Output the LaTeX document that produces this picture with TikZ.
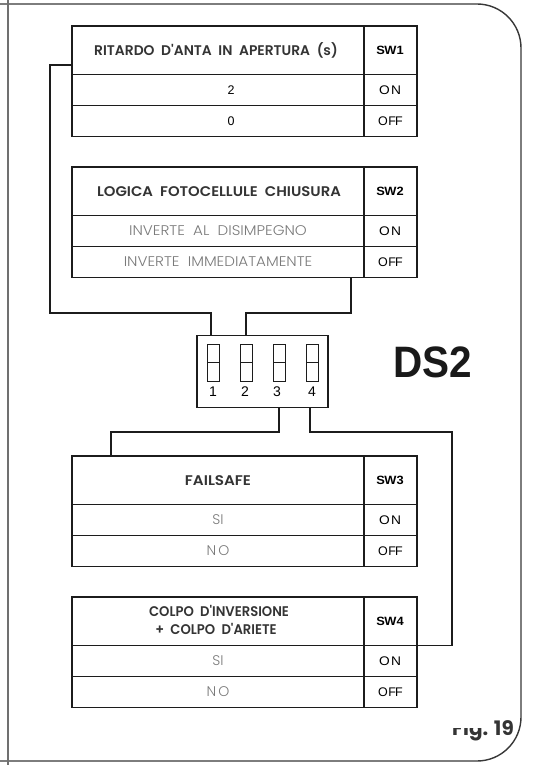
\documentclass[tikz,border=0pt]{standalone}
\usepackage{fontspec}
\usepackage{graphicx}
\IfFontExistsTF{Poppins SemiBold}{\newfontfamily\popH{Poppins SemiBold}}{\newfontfamily\popH{Poppins}}
\IfFontExistsTF{Poppins Light}{\newfontfamily\popL{Poppins Light}}{\newfontfamily\popL{Poppins}}
\IfFontExistsTF{Poppins Bold}{\newfontfamily\popB{Poppins Bold}}{\newfontfamily\popB{Poppins}[FakeBold=2]}
\newfontfamily\libf{Liberation Sans}
\definecolor{hdr}{HTML}{343434}
\definecolor{rowtxt}{HTML}{7A7A7A}
\definecolor{linec}{HTML}{1C1C1C}
\definecolor{framec}{HTML}{383838}
\definecolor{leftc}{HTML}{707070}
\newcommand{\hx}[2]{\scalebox{#1}[1]{#2}}
\begin{document}
\begin{tikzpicture}[x=1pt,y=-1pt,
  cell/.style={draw=linec, line width=1.2pt, anchor=north west, inner sep=0pt, outer sep=0pt},
  hdrtxt/.style={font=\popH\fontsize{14}{18}\selectfont, text=hdr, inner sep=0pt, anchor=base},
  rowtext/.style={font=\popL\fontsize{14}{16}\selectfont, text=rowtxt, inner sep=0pt, anchor=base},
  numtxt/.style={font=\libf\fontsize{12.5}{14}\selectfont, text=black, inner sep=0pt, anchor=base},
  diptxt/.style={font=\libf\fontsize{14}{16}\selectfont, text=black, inner sep=0pt, anchor=base},
  swtxt/.style={font=\libf\bfseries\fontsize{12}{13}\selectfont, text=black, inner sep=0pt, anchor=base},
  ontxt/.style={font=\libf\fontsize{12.5}{14}\selectfont, text=black, inner sep=0pt, anchor=base},
  figtxt/.style={font=\popB\fontsize{20}{22}\selectfont, text=hdr, inner sep=0pt},
  wire/.style={draw=linec, line width=1.1pt},
]
\useasboundingbox (0,0) rectangle (538,765);
\fill[white] (0,0) rectangle (538,765);
% frame
\draw[framec, line width=1.4pt, rounded corners=44pt] (0,4) -- (521,4) -- (521,761) -- (0,761);
\draw[leftc, line width=2pt] (7.5,0) -- (7.5,765);
% tables
\foreach \p/\t in {a/26, b/167, c/456, d/597} {
  \node[cell, minimum width=292pt, minimum height=48.5pt] (\p-h) at (72,\t) {};
  \node[cell, minimum width=53pt, minimum height=48.5pt] (\p-s) at (364,\t) {};
  \node[cell, minimum width=292pt, minimum height=31pt] (\p-r1) at (72,\t+48.5) {};
  \node[cell, minimum width=53pt, minimum height=31pt] (\p-o1) at (364,\t+48.5) {};
  \node[cell, minimum width=292pt, minimum height=31pt] (\p-r2) at (72,\t+79.5) {};
  \node[cell, minimum width=53pt, minimum height=31pt] (\p-o2) at (364,\t+79.5) {};
  \node[ontxt] (\p-on) at (390,\t+48.5+15.5+4.5) {\hx{1.1}{O\kern1.2pt N}};
  \node[ontxt] (\p-off) at (390.5,\t+79.5+15.5+4.5) {O\kern0.6pt F\kern-0.9pt F};
}
% table texts
\node[hdrtxt] (a-ht) at (216,26+24.25+4.9) {\hx{0.99}{RITARDO\ \ D'ANTA\ \ IN\ \ APERTURA\ \ (s)}};
\node[swtxt] (a-st) at (390,26+24.25+4.3) {\hx{1.07}{S\kern-0.4pt W1}};
\node[numtxt] (a-1t) at (231,26+48.5+15.5+4.5) {2};
\node[numtxt] (a-2t) at (231,26+79.5+15.5+4.5) {0};

\node[hdrtxt] (b-ht) at (219,167+24.25+4.9) {\hx{1.06}{LOGICA\ \ FOTOCELLULE\ \ CHIUSURA}};
\node[swtxt] (b-st) at (390,167+24.25+4.3) {\hx{1.07}{S\kern-0.4pt W2}};
\node[rowtext] (b-1t) at (218,167+48.5+15.5+4.9) {\hx{1.08}{INVERTE\ \ AL\ \ DISIMPEGNO}};
\node[rowtext] (b-2t) at (218,167+79.5+15.5+4.9) {\hx{1.08}{INVERTE\ \ IMMEDIATAMENTE}};

\node[hdrtxt] (c-ht) at (218,456+24.25+4.9) {\hx{1.08}{FAILSAFE}};
\node[swtxt] (c-st) at (390,456+24.25+4.3) {\hx{1.07}{S\kern-0.4pt W3}};
\node[rowtext] (c-1t) at (218,456+48.5+15.5+4.9) {SI};
\node[rowtext] (c-2t) at (218,456+79.5+15.5+4.9) {N\kern2pt O};

\node[hdrtxt] (d-ht1) at (219,616.5) {\hx{0.94}{COLPO\ \ D'INVERSIONE}};
\node[hdrtxt] (d-ht2) at (216,634.5) {\hx{0.94}{+\ \ COLPO\ \ D'ARIETE}};
\node[swtxt] (d-st) at (390,597+24.25+4.3) {\hx{1.07}{S\kern-0.4pt W4}};
\node[rowtext] (d-1t) at (218,597+48.5+15.5+4.9) {SI};
\node[rowtext] (d-2t) at (218,597+79.5+15.5+4.9) {N\kern2pt O};

% DIP switch
\node[cell, minimum width=131pt, minimum height=72pt] (dip) at (197,335.5) {};
\foreach \i/\x/\lx in {1/213.5/213,2/246/245,3/279/277,4/312/312} {
  \node[cell, anchor=center, minimum width=12pt, minimum height=37pt, line width=1pt] (sw\i) at (\x,362.5) {};
  \draw[linec, line width=1pt] (sw\i.west) -- (sw\i.east);
  \node[diptxt] (n\i) at (\lx,396) {\i};
}
\node[font=\libf\bfseries\fontsize{44}{48}\selectfont, inner sep=0pt, anchor=base, text=black!90] (ds) at (433,377.5) {\hx{0.92}{DS2}};

% connectors
\coordinate (a1) at (72,65);
\coordinate (b1) at (351,277.5);
\coordinate (d1) at (211,335.5);
\coordinate (d2) at (246,335.5);
\coordinate (d3) at (279,407.5);
\coordinate (d4) at (310,407.5);
\coordinate (c1) at (111,456);
\coordinate (e1) at (417,645.5);
\draw[wire] (a1) -| (50,313) -| (d1);
\draw[wire] (b1) |- (246,313) -- (d2);
\draw[wire] (d3) |- (111,432) -- (c1);
\draw[wire] (d4) |- (452,432) |- (e1);

% figure label (top of "Fig." cut off as in the print)
\begin{scope}
  \clip (430,728) rectangle (492,745);
  \node[figtxt, anchor=base west] (fig) at (452,735) {Fig.};
\end{scope}
\node[figtxt, anchor=base east] (fnum) at (514,735) {19};
\end{tikzpicture}
\end{document}
